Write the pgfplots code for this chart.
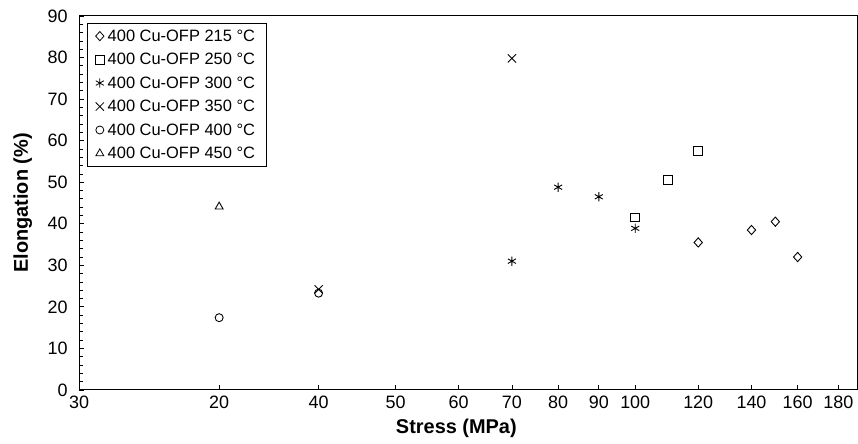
\documentclass[border=0pt]{standalone}
\usepackage{pgfplots}
\pgfplotsset{compat=1.18}
\usepackage{fontspec}
\setmainfont{Liberation Sans}
\begin{document}
\begin{tikzpicture}
\begin{axis}[
  scale only axis, width=778bp, height=374bp,
  xmode=log, xmin=20, xmax=190, ymin=0, ymax=90,
  xtick={20,30,40,50,60,70,80,90,100,120,140,160,180},
  xticklabels={30,20,40,50,60,70,80,90,100,120,140,160,180},
  minor xtick={},
  ytick={0,10,...,90},
  minor ytick={2,4,...,88},
  xtick pos=lower, ytick pos=left,
  tick align=inside,
  major tick length=5bp, minor tick length=4bp,
  axis line style={line width=1bp},
  every tick/.style={black, line width=0.8bp},
  /pgf/number format/assume math mode=true,
  tick label style={font=\fontsize{18}{20}\selectfont},
  xticklabel style={yshift=-2bp},
  yticklabel style={xshift=-8bp},
  xlabel={Stress (MPa)},
  ylabel={Elongation (\%)},
  label style={font=\fontsize{20}{22}\selectfont\bfseries},
  xlabel style={at={(axis description cs:0.485,-0.1176)}, anchor=base},
  ylabel style={at={(axis description cs:-0.0656,0.5)}, anchor=base},
  legend style={at={(axis description cs:0.0103,0.982)}, anchor=north west,
    draw=black, line width=0.8bp, inner xsep=8bp, inner ysep=5bp, row sep=7.5bp,
    font=\fontsize{16.5}{19}\selectfont,
    nodes={inner xsep=3.5bp, inner ysep=1.5bp}},
  legend cell align=left,
  every axis plot post/.append style={black, only marks, line width=0.9bp,
    legend image code/.code={\draw[##1, only marks, line width=0.8bp] plot coordinates {(0bp,0bp)};}},
]
\addplot[mark=diamond, mark size=4.6bp, mark options={xscale=1.2}] coordinates {(120,35.5) (140,38.5) (150,40.5) (160,32)};
\addlegendentry{400 Cu-OFP 215 °C}
\addplot[mark=square, mark size=4.4bp] coordinates {(100,41.5) (110,50.5) (120,57.5)};
\addlegendentry{400 Cu-OFP 250 °C}
\addplot[mark=asterisk, mark size=4.6bp, line width=1.4bp] coordinates {(70,31) (80,48.8) (90,46.5) (100,38.9)};
\addlegendentry{400 Cu-OFP 300 °C}
\addplot[mark=x, mark size=5.8bp] coordinates {(40,24.2) (70,79.8)};
\addlegendentry{400 Cu-OFP 350 °C}
\addplot[mark=o, mark size=4bp] coordinates {(30,17.4) (40,23.3)};
\addlegendentry{400 Cu-OFP 400 °C}
\addplot[mark=triangle, mark size=4.6bp] coordinates {(30,44.1)};
\addlegendentry{400 Cu-OFP 450 °C}
\end{axis}
\path ([shift={(-79bp,-54bp)}]current axis.south west) rectangle ([shift={(1bp,16bp)}]current axis.north east);
\end{tikzpicture}
\end{document}
